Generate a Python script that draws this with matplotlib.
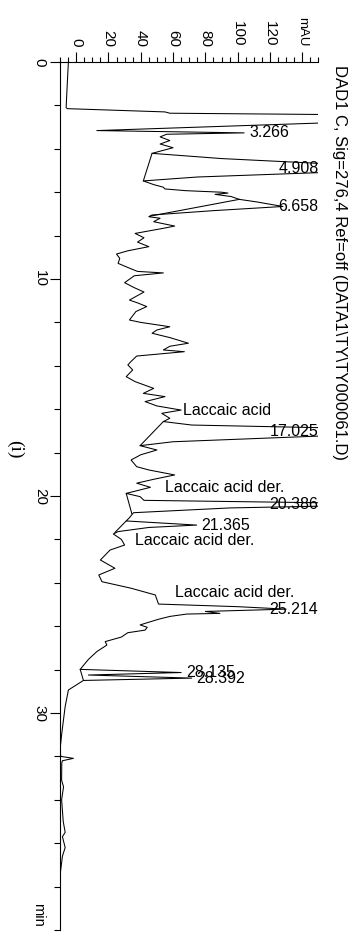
import matplotlib
matplotlib.use('Agg')
import matplotlib.pyplot as plt
from matplotlib.ticker import MultipleLocator

plt.rcParams['font.family'] = ['Liberation Sans', 'DejaVu Sans']

# chromatogram trace (time in min, signal in mAU)
time = [0.0, 1.0, 2.1, 2.15, 2.30, 2.36, 2.42, 2.55, 2.79, 3.16, 3.266, 3.33, 3.45, 3.62,
        3.78, 3.95, 4.05, 4.21, 4.45, 4.67, 4.908, 5.10, 5.30, 5.48, 5.65, 5.77, 5.85, 5.93,
        6.00, 6.04, 6.10, 6.20, 6.33, 6.45, 6.658, 6.85, 7.05, 7.13, 7.20, 7.36, 7.56, 7.65,
        7.90, 8.10, 8.30, 8.51, 8.70, 8.85, 9.05, 9.28, 9.50, 9.65, 9.72, 9.85, 10.17, 10.40,
        10.60, 10.97, 11.10, 11.27, 11.50, 11.89, 12.00, 12.20, 12.35, 12.50, 12.70, 12.96,
        13.10, 13.27, 13.35, 13.55, 13.80, 13.96, 14.19, 14.50, 14.73, 15.04, 15.27, 15.42,
        15.65, 15.85, 16.04, 16.19, 16.42, 16.57, 16.73, 16.85, 17.025, 17.24, 17.50, 17.68,
        17.88, 18.10, 18.34, 18.65, 18.80, 19.03, 19.23, 19.41, 19.60, 19.88, 20.03, 20.20,
        20.31, 20.386, 20.47, 20.55, 20.77, 21.00, 21.15, 21.34, 21.45, 21.64, 21.75, 22.00,
        22.26, 22.49, 22.95, 23.33, 23.64, 23.95, 24.25, 24.56, 24.98, 25.10, 25.214, 25.32,
        25.41, 25.44, 25.55, 25.68, 25.94, 26.05, 26.18, 26.30, 26.50, 26.71, 26.87, 27.17,
        27.53, 27.99, 28.135, 28.25, 28.392, 28.50, 28.94, 29.70, 30.94, 31.70, 32.00, 32.09,
        32.20, 32.30, 33.10, 33.40, 34.00, 35.00, 35.50, 35.70, 36.20, 36.60, 37.50, 38.40, 40.00]
signal = [-4.8, -5.5, -6.2, -5.5, 55, 58, 160, 320, 160, 12.8, 104, 56, 52, 58,
          52, 60, 55, 47, 90, 150, 205, 150, 75, 41.6, 48, 54, 55, 68,
          90, 94, 86, 96, 101, 112, 128, 85, 47, 45, 52, 48, 61, 55,
          36.5, 42, 38, 45, 32, 25, 27, 26, 33, 38, 54, 36, 30, 36,
          42, 33, 38, 43.7, 37, 33, 40, 58, 50, 47, 58, 69.5,
          58, 54, 67, 37.5, 34, 32, 35, 31, 36.5, 48, 41.6, 55,
          42.7, 50, 65, 53, 58, 54, 71.6, 150, 220, 150, 60, 39.6,
          50, 40, 34, 37.5, 45, 61, 48, 37.5, 46, 31, 39.6, 42,
          150, 190, 150, 95, 35.5, 33, 31, 74.6, 45, 26, 23, 28,
          30, 21, 15, 24, 14, 16, 34, 49, 51, 100, 130, 80,
          89, 68.5, 58, 51, 39.6, 44, 42.7, 32, 28, 18, 19, 12.8,
          7.6, 2.5, 65, 7.6, 71.6, 4.5, -4.8, -6.8, -8.9, -10, -9.5, -1.7,
          -8.5, -8.9, -9, -7.8, -9, -8, -6.8, -8.5, -6.8, -8.5, -10, -11, -11.5]

# integration baselines drawn under some peaks
base_t0 = [4.21, 6.33, 16.57, 19.88, 21.15, 27.99]
base_a0 = [47, 101, 54, 31, 31, 2.5]
base_t1 = [5.48, 7.10, 17.68, 20.82, 21.68, 28.50]
base_a1 = [41.6, 46, 39.6, 34.5, 24, 4.5]

# peak retention times and apex heights
peak_rt = [3.266, 4.908, 6.658, 17.025, 20.386, 21.365, 25.214, 28.135, 28.392]
peak_top = [104, 205, 128, 220, 190, 74.6, 130, 65, 71.6]

# compound annotations
cmp_text = ['Laccaic acid', 'Laccaic acid der.', 'Laccaic acid der.', 'Laccaic acid der.']
cmp_mau = [66, 55, 36.5, 61]
cmp_time = [16.04, 19.63, 22.07, 24.47]

W, H = 361, 932
fig = plt.figure(figsize=(W / 100, H / 100), dpi=100)
ax = fig.add_axes([60 / W, 2 / H, 258.4 / W, 868 / H])

ax.plot(signal, time, color='black', lw=0.75)
for i in range(len(base_t0)):
    ax.plot([base_a0[i], base_a1[i]], [base_t0[i], base_t1[i]], color='black', lw=0.75)

ax.set_xlim(-10, 150)
ax.set_ylim(40, 0)

for rt, top in zip(peak_rt, peak_top):
    if top > 120:
        ax.text(150, rt, f'{rt:.3f}', ha='right', va='center', fontsize=11.5)
    else:
        ax.text(top + 3, rt, f'{rt:.3f}', ha='left', va='center', fontsize=11.5)

for txt, x, y in zip(cmp_text, cmp_mau, cmp_time):
    ax.text(x, y, txt, ha='left', va='center', fontsize=11.5)

# axes styling
for s in ['right', 'bottom']:
    ax.spines[s].set_visible(False)
for s in ['left', 'top']:
    ax.spines[s].set_linewidth(0.8)

ax.xaxis.tick_top()
ax.set_xticks(range(0, 141, 20))
ax.set_xticklabels(['0', '20', '40', '60', '80', '100', '120', 'mAU'])
ax.xaxis.set_minor_locator(MultipleLocator(5))
ax.set_yticks([0, 10, 20, 30])
ax.yaxis.set_minor_locator(MultipleLocator(2))
ax.tick_params(axis='x', which='major', length=7.5, width=0.8, pad=3.5, labelsize=11, labelrotation=-90)
ax.tick_params(axis='x', which='minor', length=3.6, width=0.8)
ax.tick_params(axis='y', which='major', length=7.5, width=0.8, pad=2, labelsize=11, labelrotation=-90)
ax.tick_params(axis='y', which='minor', length=4, width=0.8)
for lab in ax.get_yticklabels():
    lab.set_va('center')
ax.get_xticklabels()[-1].set_fontsize(9.5)

fig.text(339 / W, 1 - 65 / H, 'DAD1 C, Sig=276,4 Ref=off (DATA1\\TY\\TY000061.D)',
         rotation=-90, ha='center', va='top', fontsize=12)
fig.text(38 / W, 1 - 915 / H, 'min', rotation=-90, ha='center', va='center', fontsize=10.5)
fig.text(15 / W, 1 - 449 / H, '(i)', rotation=-90, ha='center', va='center',
         family='Liberation Serif', fontsize=14)

fig.savefig('out.png', dpi=100)
